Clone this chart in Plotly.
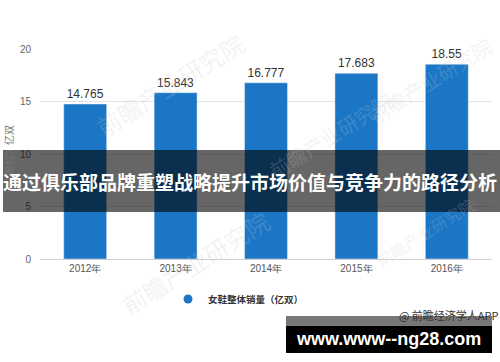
import plotly.graph_objects as go

years = ["2012年", "2013年", "2014年", "2015年", "2016年"]
sales = [14.765, 15.843, 16.777, 17.683, 18.55]
sales_labels = ["14.765", "15.843", "16.777", "17.683", "18.55"]
series_name = "女鞋整体销量（亿双）"
banner_text = "通过俱乐部品牌重塑战略提升市场价值与竞争力的路径分析"
site_text = "www.www--ng28.com"
source_text = "@ 前瞻经济学人APP"
y_title = "单位：亿双"

W, H = 500, 362
L, R, T, B = 40, 8, 49, 103
PW, PH = W - L - R, H - T - B

def px(x):
    return (x - L) / PW

def py(y):
    return (H - B - y) / PH

BAR = "#1b76c6"

fig = go.Figure()
fig.add_trace(go.Bar(
    x=years, y=sales, text=sales_labels, textposition="outside",
    textfont=dict(family="Liberation Sans, Arial", size=12, color="#333"),
    marker_color=BAR, showlegend=False, cliponaxis=False, width=0.475,
))
fig.add_trace(go.Scatter(
    x=[None], y=[None], mode="markers", name=series_name,
    marker=dict(symbol="circle", size=9, color=BAR), showlegend=True,
))

shapes = [
    dict(type="rect", xref="paper", yref="paper", x0=px(3), x1=px(500), y0=py(212), y1=py(150),
         fillcolor="rgba(0,0,0,0.6)", line=dict(width=0), layer="above"),
    dict(type="rect", xref="paper", yref="paper", x0=px(286), x1=px(492), y0=py(326), y1=py(316),
         fillcolor="#777777", line=dict(width=0), layer="above"),
    dict(type="rect", xref="paper", yref="paper", x0=px(286), x1=px(492), y0=py(353), y1=py(326),
         fillcolor="#000000", line=dict(width=0), layer="above"),
]

def ann(x, y, text, font, angle=0):
    return dict(x=px(x), y=py(y), xref="paper", yref="paper", text=text, showarrow=False,
                xanchor="center", yanchor="middle", textangle=angle, font=font)

annotations = []
# faint watermarks
for (wx, wy, ang, sz) in [(170, 85, -32, 24), (195, 262, -32, 24), (430, 80, -32, 20), (330, 135, -32, 20), (425, 232, -32, 16)]:
    annotations.append(ann(wx, wy, "前瞻产业研究院",
                           dict(family="Noto Sans CJK SC", size=sz, color="rgba(200,200,200,0.22)"), ang))
annotations += [
    ann(8, 150, y_title, dict(family="Noto Sans CJK SC", size=10, color="#777"), -90),
    ann(250, 181, banner_text, dict(family="Noto Sans CJK SC", size=19, color="white", weight="bold")),
    ann(449, 315, source_text, dict(family="Noto Sans CJK SC", size=11, color="#333")),
    ann(388, 339, site_text, dict(family="Liberation Sans", size=18, color="white", weight="bold")),
]

fig.update_layout(
    width=W, height=H, margin=dict(l=L, r=R, t=T, b=B),
    paper_bgcolor="white", plot_bgcolor="white",
    shapes=shapes, annotations=annotations,
    showlegend=True,
    legend=dict(orientation="h", x=px(168), xanchor="left", y=py(299), yanchor="middle",
                font=dict(family="Noto Sans CJK SC", size=9.5, color="#333", weight="bold"),
                itemwidth=30, bgcolor="rgba(0,0,0,0)"),
    xaxis=dict(showgrid=False, showline=True, linecolor="#cfcfcf", linewidth=1, ticks="",
               tickfont=dict(family="Liberation Sans", size=10, color="#555"), fixedrange=True),
    yaxis=dict(range=[0, 20], tickvals=[0, 5, 10, 15, 20], showgrid=True, gridcolor="#e3e3e3",
               zeroline=False, showline=False, ticklabelstandoff=8,
               tickfont=dict(family="Liberation Sans", size=10, color="#666")),
    bargap=0.525,
)

fig.write_html("out.html")
